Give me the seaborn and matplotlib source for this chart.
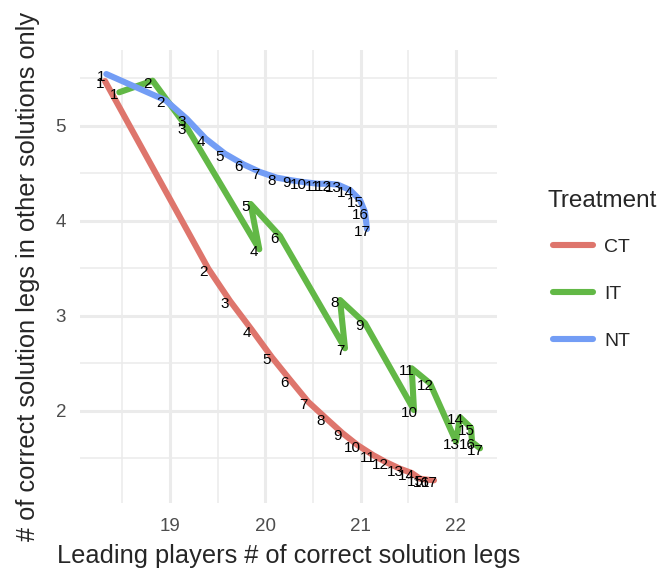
import numpy as np
import pandas as pd
import matplotlib
matplotlib.use('Agg')
import matplotlib.pyplot as plt
import seaborn as sns

# values
steps = list(range(1, 18))

ct_x = [18.318, 19.402, 19.630, 19.857, 20.067, 20.259, 20.451, 20.634, 20.808,
        20.970, 21.133, 21.263, 21.413, 21.536, 21.623, 21.694, 21.770]
ct_y = [5.470, 3.495, 3.155, 2.853, 2.565, 2.326, 2.092, 1.923, 1.765,
        1.636, 1.531, 1.460, 1.389, 1.344, 1.284, 1.274, 1.267]

it_x = [18.468, 18.818, 19.175, 19.937, 19.846, 20.154, 20.836, 20.784, 21.046,
        21.560, 21.536, 21.728, 22.001, 22.043, 22.158, 22.169, 22.253]
it_y = [5.352, 5.474, 4.986, 3.699, 4.176, 3.839, 2.657, 3.165, 2.920,
        2.007, 2.446, 2.288, 1.674, 1.931, 1.821, 1.671, 1.604]

nt_x = [18.332, 18.955, 19.175, 19.375, 19.577, 19.769, 19.944, 20.120, 20.277,
        20.399, 20.553, 20.658, 20.763, 20.889, 20.994, 21.046, 21.067]
nt_y = [5.544, 5.267, 5.074, 4.863, 4.705, 4.594, 4.513, 4.453, 4.425,
        4.407, 4.389, 4.389, 4.379, 4.323, 4.218, 4.092, 3.913]

treatments = ['CT', 'IT', 'NT']
colors = {'CT': '#DE756C', 'IT': '#62B846', 'NT': '#739DF5'}

df = pd.concat([
    pd.DataFrame({'x': ct_x, 'y': ct_y, 'step': steps, 'Treatment': 'CT'}),
    pd.DataFrame({'x': it_x, 'y': it_y, 'step': steps, 'Treatment': 'IT'}),
    pd.DataFrame({'x': nt_x, 'y': nt_y, 'step': steps, 'Treatment': 'NT'}),
], ignore_index=True)

sns.set_theme(style='white')
plt.rcParams['font.family'] = ['Liberation Sans', 'DejaVu Sans']

fig = plt.figure(figsize=(6.64, 5.69), dpi=100)
ax = fig.add_axes([80/664, 1 - 503/569, (497-80)/664, (503-50)/569])

# grid like theme_minimal
for v in [18.5, 19.5, 20.5, 21.5]:
    ax.axvline(v, color='#EBEBEB', lw=1.1, zorder=0)
for v in [1.5, 2.5, 3.5, 4.5, 5.5]:
    ax.axhline(v, color='#EBEBEB', lw=1.1, zorder=0)
for v in [19, 20, 21, 22]:
    ax.axvline(v, color='#EBEBEB', lw=2.2, zorder=0)
for v in [2, 3, 4, 5]:
    ax.axhline(v, color='#EBEBEB', lw=2.2, zorder=0)

sns.lineplot(data=df, x='x', y='y', hue='Treatment', units='Treatment',
             estimator=None, sort=False, palette=colors, lw=4.4, ax=ax,
             legend=False, zorder=2)

for _, r in df.iterrows():
    ax.annotate(str(r['step']), (r['x'], r['y']), xytext=(-3.6, -2.2),
                textcoords='offset points', ha='center', va='center',
                fontsize=11, color='black', zorder=3)

ax.set_xlim(18.056, 22.431)
ax.set_ylim(1.028, 5.797)
ax.set_xticks([19, 20, 21, 22])
ax.set_yticks([2, 3, 4, 5])
ax.tick_params(axis='both', length=0, labelsize=13.5, labelcolor='#4D4D4D')
ax.tick_params(axis='x', pad=11)
ax.tick_params(axis='y', pad=10)
for s in ax.spines.values():
    s.set_visible(False)
ax.set_xlabel('Leading players # of correct solution legs', fontsize=18.3, labelpad=6)
ax.set_ylabel('# of correct solution legs in other solutions only', fontsize=18.3, labelpad=11)

# legend: title placed separately so the keys sit indented under it
fig.text(548/664, 1 - 201/569, 'Treatment', fontsize=17.5, va='center', ha='left')
handles = [plt.Line2D([], [], color=colors[t], lw=4.4) for t in treatments]
leg = fig.legend(handles, treatments, loc='center left',
                 bbox_to_anchor=(553/664, 1 - 294/569), frameon=False,
                 fontsize=14, handlelength=2.06, borderpad=0, borderaxespad=0,
                 labelspacing=1.5, handletextpad=0.56)

fig.savefig('out.png', dpi=100)
